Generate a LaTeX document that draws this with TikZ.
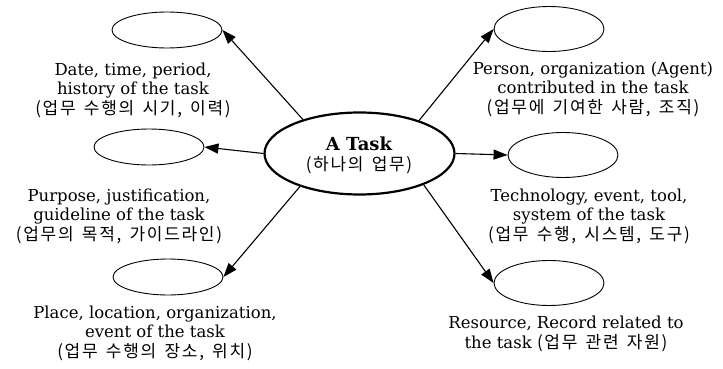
\documentclass[tikz,border=0pt]{standalone}
\usepackage{fontspec}
\setmainfont{DejaVu Serif}
\newfontfamily\kr[LetterSpace=10,WordSpace=1.5]{Noto Sans CJK KR}
\usetikzlibrary{shapes.geometric,arrows.meta}

\begin{document}
\begin{tikzpicture}[x=1pt,y=-1pt,
  leaf/.style={ellipse,draw,line width=0.9pt,inner sep=0pt,minimum width=110pt},
  leafL/.style={leaf,minimum height=36pt},
  leafR/.style={leaf,minimum height=45pt},
  hub/.style={ellipse,draw,line width=2.2pt,inner sep=0pt,minimum width=190pt,minimum height=82pt},
  note/.style={align=center,inner sep=0pt,font=\fontsize{16.5}{19.5}\selectfont},
  arr/.style={-{Triangle[length=14pt,width=10pt]},line width=1.1pt}
]
\newcommand{\ko}[1]{{\kr\fontsize{17}{19}\selectfont #1}}
\useasboundingbox (0,0) rectangle (723,369);

% central task
\node[hub] (task) at (359.5,153.5) {};
\node[inner sep=0pt,font=\fontsize{18}{21}\selectfont\bfseries] (tasktitle) at (359,144) {A Task};
\node[inner sep=0pt] (tasksub) at (359,165) {\ko{(하나의 업무)}};

% surrounding ellipses
\node[leafL] (tl) at (167,30) {};
\node[leafL] (ml) at (149,147) {};
\node[leafL] (bl) at (168,277) {};
\node[leafR] (tr) at (549,29) {};
\node[leafR] (mr) at (563,155) {};
\node[leafR] (br) at (549,283) {};

% connectors
\draw[arr] (task.149) -- (tl.east);
\draw[arr] (task.west) -- (ml.east);
\draw[arr] (task.209) -- (bl.east);
\draw[arr] (task.29) -- (tr.west);
\draw[arr] (task.east) -- (mr.west);
\draw[arr] (task.-26) -- (br.west);

% descriptions
\node[note] (ttl) at (133,90) {Date, time, period,\\history of the task\\\ko{(업무 수행의 시기, 이력)}};
\node[note] (tml) at (119,216) {Purpose, justification,\\guideline of the task\\\ko{(업무의 목적, 가이드라인)}};
\node[note] (tbl) at (155,333) {Place, location, organization,\\event of the task\\\ko{(업무 수행의 장소, 위치)}};
\node[note] (ttr) at (593,89) {Person, organization (Agent)\\contributed in the task\\\ko{(업무에 기여한 사람, 조직)}};
\node[note] (tmr) at (589,216) {Technology, event, tool,\\system of the task\\\ko{(업무 수행, 시스템, 도구)}};
\node[note] (tbr) at (566,334) {Resource, Record related to\\the task \ko{(업무 관련 자원)}};
\end{tikzpicture}
\end{document}
